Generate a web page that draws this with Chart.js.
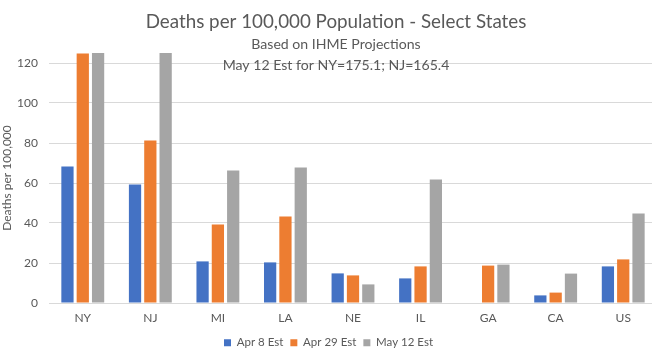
<!DOCTYPE html>
<html>
<head>
<meta charset="utf-8">
<script src="https://cdn.jsdelivr.net/npm/chart.js@4"></script>
<style>
  html, body { margin: 0; padding: 0; background: #fff; overflow: hidden; }
  #wrap { position: absolute; left: 0; top: 0; width: 660px; height: 357px; }
</style>
</head>
<body>
<div id="wrap"><canvas id="c"></canvas></div>
<script>
const categories = ["NY", "NJ", "MI", "LA", "NE", "IL", "GA", "CA", "US"];
const seriesNames = ["Apr 8 Est", "Apr 29 Est", "May 12 Est"];
const apr8 = [68.2, 59.2, 20.8, 20.3, 14.8, 12.3, null, 3.8, 18.3];
const apr29 = [124.7, 81.2, 39.2, 43.2, 13.8, 18.3, 18.7, 5.2, 21.8];
const may12 = [175.1, 165.4, 66.2, 67.7, 9.3, 61.7, 19.2, 14.7, 44.8];
const yTicks = [0, 20, 40, 60, 80, 100, 120];
const yMax = 125;
const titleText = "Deaths per 100,000 Population - Select States";
const subtitleLines = ["Based on IHME Projections", "May 12 Est for NY=175.1; NJ=165.4"];
const yAxisTitle = "Deaths per 100,000";

const FONT = "Lato, 'Open Sans', sans-serif";
const TXT = "#595959";

const titlePlugin = {
  id: "excelTitles",
  afterDraw(chart) {
    const ctx = chart.ctx;
    ctx.save();
    ctx.fillStyle = TXT;
    ctx.textAlign = "center";
    ctx.textBaseline = "middle";
    const cx = 336;
    ctx.font = "18.8px " + FONT;
    ctx.fillText(titleText, cx, 22);
    ctx.font = "14.1px " + FONT;
    ctx.fillText(subtitleLines[0], cx, 44.5);
    ctx.fillText(subtitleLines[1], cx, 65.5);
    ctx.restore();
  }
};

const legendSize = {
  id: "legendSize",
  afterInit(chart) {
    const lg = chart.legend;
    if (!lg) return;
    const orig = lg.fit.bind(lg);
    lg.fit = function () { orig(); this.height = 26; };
  }
};

new Chart(document.getElementById("c"), {
  type: "bar",
  data: {
    labels: categories,
    datasets: [
      { label: seriesNames[0], data: apr8, backgroundColor: "#4472C4" },
      { label: seriesNames[1], data: apr29, backgroundColor: "#ED7D31" },
      { label: seriesNames[2], data: may12, backgroundColor: "#A5A5A5" }
    ]
  },
  options: {
    responsive: true,
    maintainAspectRatio: false,
    animation: false,
    datasets: { bar: { categoryPercentage: 0.68, barPercentage: 0.8 } },
    layout: { padding: { top: 53, left: 0, right: 3, bottom: 1 } },
    plugins: {
      title: { display: false },
      tooltip: { enabled: false },
      legend: {
        position: "bottom",
        labels: {
          color: TXT,
          font: { family: FONT, size: 11.5 },
          boxWidth: 7,
          boxHeight: 7,
          padding: 7
        }
      }
    },
    scales: {
      x: {
        grid: { display: false, drawTicks: false },
        border: { display: false },
        ticks: { color: TXT, font: { family: FONT, size: 12 }, padding: 8 },
        afterFit(scale) { scale.height = 27; }
      },
      y: {
        min: 0,
        max: yMax,
        ticks: { stepSize: 20, color: TXT, font: { family: FONT, size: 12 }, padding: 11 },
        afterBuildTicks(scale) { scale.ticks = yTicks.map(v => ({ value: v })); },
        grid: { color: "#D9D9D9", drawTicks: false, lineWidth: 1 },
        border: { display: false },
        title: { display: true, text: yAxisTitle, color: TXT, font: { family: FONT, size: 12 }, padding: 0 },
        afterFit(scale) { scale.width = 49; }
      }
    }
  },
  plugins: [titlePlugin, legendSize]
});
</script>
</body>
</html>
